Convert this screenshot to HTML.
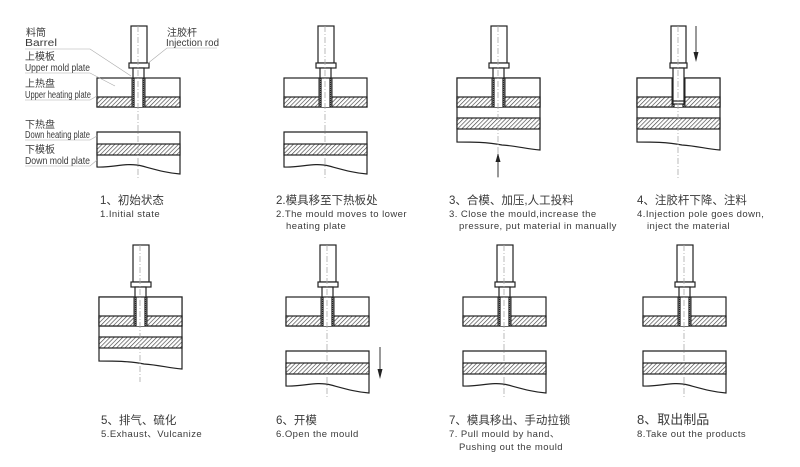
<!DOCTYPE html>
<html><head><meta charset="utf-8"><style>
html,body{margin:0;padding:0;background:#fff;}
svg{display:block}
.t{font-family:"Liberation Sans","Noto Sans CJK SC",sans-serif;fill:#3a3a3a}
.c{font-size:11.5px}
.e{font-size:9.5px;letter-spacing:0.45px}
.l{font-size:10px}
</style></head><body>
<svg width="800" height="467" viewBox="0 0 800 467" xmlns="http://www.w3.org/2000/svg">
<defs>
<pattern id="h" width="3" height="3" patternUnits="userSpaceOnUse" patternTransform="rotate(45)">
<rect width="3" height="3" fill="#fff"/><line x1="0" y1="0" x2="0" y2="3" stroke="#444" stroke-width="1.3"/>
</pattern>
<pattern id="d" width="2" height="2" patternUnits="userSpaceOnUse">
<rect width="2" height="2" fill="#777"/><rect width="1" height="1" fill="#222"/>
</pattern>
<g id="up">
<rect x="0" y="0" width="83" height="29" fill="#fff" stroke="#222" stroke-width="1.2"/>
<rect x="0" y="19" width="83" height="10" fill="url(#h)" stroke="#222" stroke-width="1.2"/>
<rect x="35" y="0" width="13" height="29" fill="#fff"/>
<rect x="35" y="0" width="3" height="29" fill="url(#d)"/>
<rect x="45" y="0" width="3" height="29" fill="url(#d)"/>
<line x1="35" y1="0" x2="35" y2="29" stroke="#222"/>
<line x1="48" y1="0" x2="48" y2="29" stroke="#222"/>
</g>
<g id="rod" fill="#fff" stroke="#222" stroke-width="1.2">
<rect x="34" y="-52" width="16" height="37"/>
<rect x="32" y="-15" width="20" height="5"/>
<rect x="36" y="-10" width="11" height="10"/>
</g>
<g id="low">
<path d="M0,0 H83 V42 C70,41 60,38 45,34 C30,30 15,36 0,35 Z" fill="#fff" stroke="#222" stroke-width="1.2"/>
<rect x="0" y="12" width="83" height="11" fill="url(#h)" stroke="#222" stroke-width="1.2"/>
</g>
<g id="closed">
<path d="M0,0 H83 V72 C70,71 60,68 45,67 C30,64 15,64 0,64 Z" fill="#fff" stroke="#222" stroke-width="1.2"/>
<use href="#up"/>
<rect x="0" y="40" width="83" height="11" fill="url(#h)" stroke="#222" stroke-width="1.2"/>
</g>
</defs>

<g transform="translate(97,78)"><use href="#up"/><use href="#rod"/><use href="#low" y="54"/>
<line x1="41" y1="-52" x2="41" y2="100" stroke="#aaa" stroke-dasharray="6,2,1,2" stroke-width="0.8"/></g>
<g transform="translate(284,78)"><use href="#up"/><use href="#rod"/><use href="#low" y="54"/>
<line x1="41" y1="-52" x2="41" y2="100" stroke="#aaa" stroke-dasharray="6,2,1,2" stroke-width="0.8"/></g>
<g transform="translate(457,78)"><use href="#closed"/><use href="#rod"/>
<line x1="41" y1="-52" x2="41" y2="100" stroke="#aaa" stroke-dasharray="6,2,1,2" stroke-width="0.8"/>
<line x1="41" y1="76" x2="41" y2="99" stroke="#333"/><path d="M38.5,84 L41,75 L43.5,84 Z" fill="#222"/></g>
<g transform="translate(637,78)"><use href="#closed"/>
<g fill="#fff" stroke="#222" stroke-width="1.2">
<rect x="34" y="-52" width="15" height="37"/><rect x="33" y="-15" width="17" height="5"/>
<rect x="36" y="-10" width="11" height="36"/><line x1="36" y1="23" x2="47" y2="23"/></g>
<line x1="41" y1="-52" x2="41" y2="100" stroke="#aaa" stroke-dasharray="6,2,1,2" stroke-width="0.8"/>
<line x1="59" y1="-52" x2="59" y2="-20" stroke="#333"/><path d="M56.5,-26 L59,-16 L61.5,-26 Z" fill="#222"/></g>
<g transform="translate(99,297)"><use href="#closed"/><use href="#rod"/>
<line x1="41" y1="-52" x2="41" y2="85" stroke="#aaa" stroke-dasharray="6,2,1,2" stroke-width="0.8"/></g>
<g transform="translate(286,297)"><use href="#up"/><use href="#rod"/><use href="#low" y="54"/>
<line x1="41" y1="-52" x2="41" y2="102" stroke="#aaa" stroke-dasharray="6,2,1,2" stroke-width="0.8"/>
<line x1="94" y1="50" x2="94" y2="78" stroke="#333"/><path d="M91.5,72 L94,82 L96.5,72 Z" fill="#222"/></g>
<g transform="translate(463,297)"><use href="#up"/><use href="#rod"/><use href="#low" y="54"/>
<line x1="41" y1="-52" x2="41" y2="102" stroke="#aaa" stroke-dasharray="6,2,1,2" stroke-width="0.8"/></g>
<g transform="translate(643,297)"><use href="#up"/><use href="#rod"/><use href="#low" y="54"/>
<line x1="41" y1="-52" x2="41" y2="102" stroke="#aaa" stroke-dasharray="6,2,1,2" stroke-width="0.8"/></g>

<g stroke="#aaa" stroke-width="0.6" fill="none">
<path d="M25,49 H90 L131,76"/>
<path d="M25,73 H90 L115,86"/>
<path d="M25,100 H90 L97,96"/>
<path d="M25,140 H90 L97,136"/>
<path d="M25,166 H90 L97,160"/>
<path d="M217,48 H167 L147,64"/>
</g>
<text class="t l" x="26" y="36">料筒</text>
<text class="t l" x="25" y="46" textLength="32" lengthAdjust="spacingAndGlyphs">Barrel</text>
<text class="t l" x="25" y="60">上模板</text>
<text class="t l" x="25" y="71" textLength="65" lengthAdjust="spacingAndGlyphs">Upper mold plate</text>
<text class="t l" x="25" y="87">上热盘</text>
<text class="t l" x="25" y="98" textLength="66" lengthAdjust="spacingAndGlyphs">Upper heating plate</text>
<text class="t l" x="25" y="128">下热盘</text>
<text class="t l" x="25" y="138" textLength="65" lengthAdjust="spacingAndGlyphs">Down heating plate</text>
<text class="t l" x="25" y="153">下模板</text>
<text class="t l" x="25" y="164" textLength="65" lengthAdjust="spacingAndGlyphs">Down mold plate</text>
<text class="t l" x="167" y="36">注胶杆</text>
<text class="t l" x="166" y="46" textLength="53" lengthAdjust="spacingAndGlyphs">Injection rod</text>

<text class="t c" x="100" y="204">1、初始状态</text>
<text class="t e" x="100" y="217">1.Initial state</text>
<text class="t c" x="276" y="204">2.模具移至下热板处</text>
<text class="t e" x="276" y="217">2.The mould moves to lower</text>
<text class="t e" x="286" y="229">heating plate</text>
<text class="t c" x="449" y="204">3、合模、加压,人工投料</text>
<text class="t e" x="449" y="217">3.  Close the mould,increase the</text>
<text class="t e" x="459" y="229">pressure, put material in manually</text>
<text class="t c" x="637" y="204">4、注胶杆下降、注料</text>
<text class="t e" x="637" y="217">4.Injection pole goes down,</text>
<text class="t e" x="647" y="229">inject the material</text>

<text class="t c" x="101" y="424">5、排气、硫化</text>
<text class="t e" x="101" y="437">5.Exhaust、Vulcanize</text>
<text class="t c" x="276" y="424">6、开模</text>
<text class="t e" x="276" y="437">6.Open the mould</text>
<text class="t c" x="449" y="424">7、模具移出、手动拉锁</text>
<text class="t e" x="449" y="437">7. Pull mould by hand、</text>
<text class="t e" x="459" y="450">Pushing out the mould</text>
<text class="t c" x="637" y="424" style="font-size:13px">8、取出制品</text>
<text class="t e" x="637" y="437">8.Take out the products</text>
</svg>
</body></html>
